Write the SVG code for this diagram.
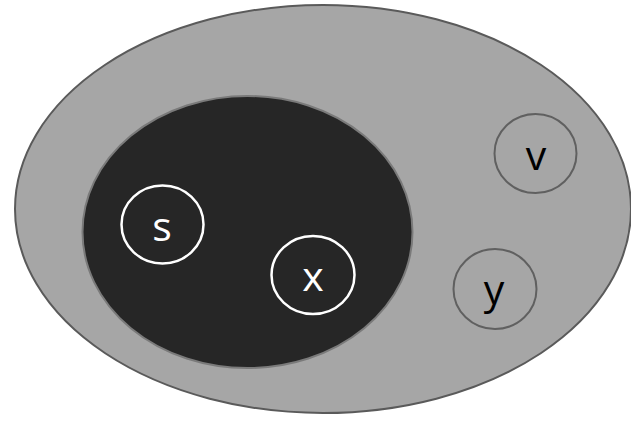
<svg xmlns="http://www.w3.org/2000/svg" width="631" height="424" viewBox="0 0 631 424">
<style>
.lbl{font-family:"Open Sans","Liberation Sans",sans-serif;font-size:41px;text-anchor:middle}
.w{fill:#ffffff}
.k{fill:#000000}
.wn{fill:none;stroke:#ffffff;stroke-width:2.5}
.gn{fill:none;stroke:#606060;stroke-width:2}
</style>
<rect width="631" height="424" fill="#ffffff"/>
<g id="outer">
<ellipse cx="323" cy="209" rx="308" ry="204" fill="#a6a6a6" stroke="#5a5a5a" stroke-width="2"/>
</g>
<g id="inner">
<ellipse cx="247.5" cy="232" rx="165" ry="136" fill="#262626" stroke="#7a7a7a" stroke-width="2"/>
</g>
<g id="node-s">
<ellipse class="wn" cx="162.5" cy="224.5" rx="41" ry="39"/>
<text class="lbl w" x="162" y="241">s</text>
</g>
<g id="node-x">
<ellipse class="wn" cx="313" cy="275" rx="41.5" ry="39"/>
<text class="lbl w" x="313" y="291">x</text>
</g>
<g id="node-v">
<ellipse class="gn" cx="535.5" cy="153.5" rx="41" ry="39.5"/>
<text class="lbl k" x="536" y="170">v</text>
</g>
<g id="node-y">
<ellipse class="gn" cx="495" cy="289" rx="41.5" ry="40"/>
<text class="lbl k" x="494" y="304">y</text>
</g>
<g id="connectors"></g>
</svg>
